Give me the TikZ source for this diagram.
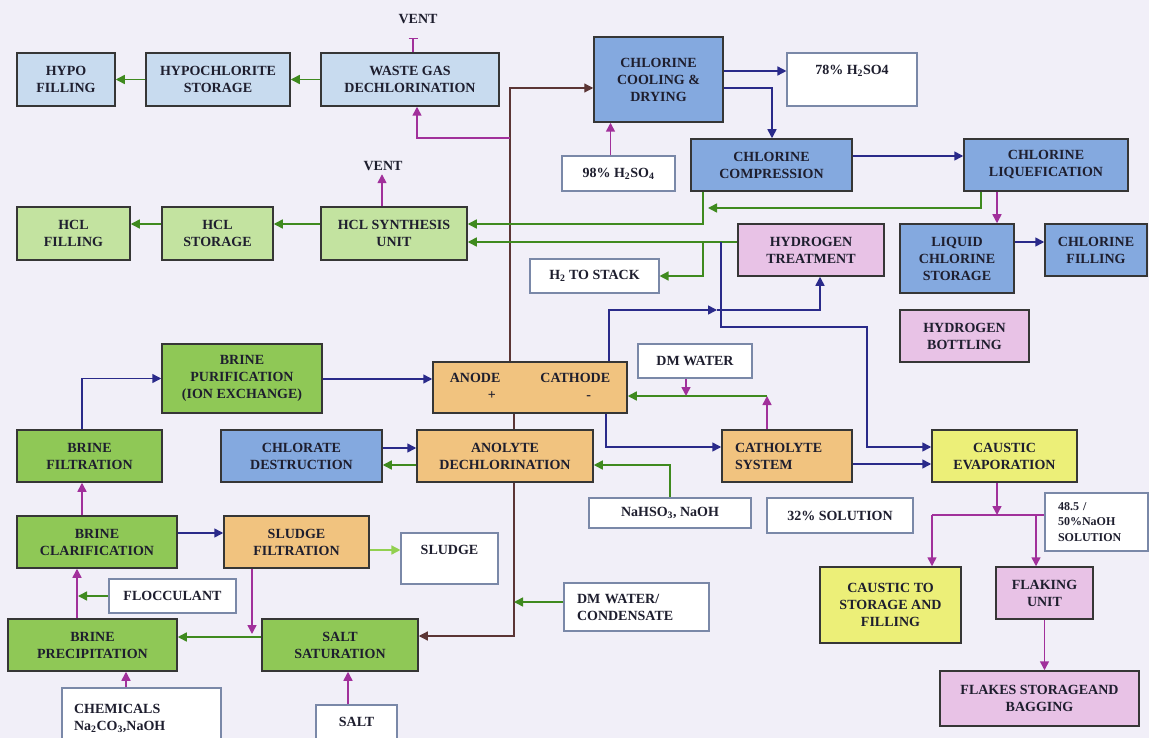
\documentclass[tikz,border=0pt]{standalone}
\usepackage{fontspec}
\setmainfont{Liberation Serif}
\usetikzlibrary{arrows.meta}

\definecolor{paper}{HTML}{F1EFF8}
\definecolor{boxline}{HTML}{363636}
\definecolor{feedline}{HTML}{7A88A8}
\definecolor{hypoblue}{HTML}{C8DBEF}
\definecolor{chlblue}{HTML}{84A9DF}
\definecolor{hclgreen}{HTML}{C3E3A0}
\definecolor{brinegreen}{HTML}{8FC856}
\definecolor{cellorange}{HTML}{F1C37F}
\definecolor{hydpink}{HTML}{E8C2E6}
\definecolor{caustyellow}{HTML}{ECEF78}
\definecolor{flownavy}{HTML}{2A2A8A}
\definecolor{flowgreen}{HTML}{3F8A1F}
\definecolor{flowmag}{HTML}{A1309B}
\definecolor{flowdark}{HTML}{5B3535}
\definecolor{flowlight}{HTML}{92D050}
\definecolor{ink}{HTML}{1E1E2E}

\begin{document}
\begin{tikzpicture}[x=1pt,y=-1pt,
  box/.style={draw=boxline,line width=1.5pt,inner sep=0pt,align=center,text=ink,
    font=\bfseries\fontsize{14}{17}\selectfont},
  hypo/.style={box,fill=hypoblue},
  chl/.style={box,fill=chlblue},
  hcl/.style={box,fill=hclgreen},
  brine/.style={box,fill=brinegreen},
  cell/.style={box,fill=cellorange},
  hyd/.style={box,fill=hydpink},
  caus/.style={box,fill=caustyellow},
  feed/.style={box,fill=white,draw=feedline,line width=1.1pt},
  flowtip/.style={-{Triangle[length=9pt,width=9pt]}},
  bflow/.style={flownavy,line width=1.5pt,flowtip},
  gflow/.style={flowgreen,line width=1.5pt,flowtip},
  mflow/.style={flowmag,line width=1.5pt,flowtip},
  dflow/.style={flowdark,line width=1.2pt,flowtip},
  lflow/.style={flowlight,line width=1.5pt,flowtip},
  mline/.style={flowmag,line width=1.5pt},
  dline/.style={flowdark,line width=1.2pt},
  ventlabel/.style={text=ink,font=\bfseries\fontsize{14}{17}\selectfont}]

\useasboundingbox (0,0) rectangle (1149,738);
\fill[paper] (0,0) rectangle (1149,738);
\clip (0,0) rectangle (1149,738);

% chlorine / hcl / hypo
\node[hypo,minimum width=98pt,minimum height=53pt] (hypofill) at (66,79.5) {HYPO\\FILLING};
\node[hypo,minimum width=144pt,minimum height=53pt] (hypostor) at (218,79.5) {HYPOCHLORITE\\STORAGE};
\node[hypo,minimum width=178pt,minimum height=53pt] (wastegas) at (410,79.5) {WASTE GAS\\DECHLORINATION};
\node[ventlabel] (vent1) at (418,19) {VENT};
\node[chl,minimum width=129pt,minimum height=85pt] (ccd) at (658.5,79.5) {CHLORINE\\COOLING \&\\DRYING};
\node[feed,minimum width=130pt,minimum height=53pt,text depth=19pt] (h2so78) at (852,79.5) {78\% H\textsubscript{2}SO4};
\node[feed,minimum width=113pt,minimum height=35pt] (h2so98) at (618.5,173.5) {98\% H\textsubscript{2}SO\textsubscript{4}};
\node[chl,minimum width=161pt,minimum height=52pt] (comp) at (771.5,165) {CHLORINE\\COMPRESSION};
\node[chl,minimum width=164pt,minimum height=52pt] (liq) at (1046,165) {CHLORINE\\LIQUEFICATION};
\node[hcl,minimum width=113pt,minimum height=53pt] (hclfill) at (73.5,233.5) {HCL\\FILLING};
\node[hcl,minimum width=111pt,minimum height=53pt] (hclstor) at (217.5,233.5) {HCL\\STORAGE};
\node[hcl,minimum width=146pt,minimum height=53pt] (hclsyn) at (394,233.5) {HCL SYNTHESIS\\UNIT};
\node[ventlabel] (vent2) at (383,166) {VENT};
\node[feed,minimum width=129pt,minimum height=34pt] (h2stack) at (594.5,276) {H\textsubscript{2} TO STACK};
\node[hyd,minimum width=146pt,minimum height=52pt] (htreat) at (811,250) {HYDROGEN\\TREATMENT};
\node[chl,minimum width=114pt,minimum height=69pt] (lcs) at (957,258.5) {LIQUID\\CHLORINE\\STORAGE};
\node[chl,minimum width=102pt,minimum height=52pt] (clfill) at (1096,250) {CHLORINE\\FILLING};
\node[hyd,minimum width=129pt,minimum height=52pt] (hbottle) at (964.5,336) {HYDROGEN\\BOTTLING};

% cell room
\node[brine,minimum width=160pt,minimum height=69pt] (brinepur) at (242,378.5) {BRINE\\PURIFICATION\\(ION EXCHANGE)};
\node[cell,minimum width=194pt,minimum height=51pt] (anode) at (530,387.5)
  {\begin{tabular}{@{}l@{\hspace{40pt}}l@{}}ANODE & CATHODE\\ \hspace{38pt}+ & \hspace{46pt}-\end{tabular}};
\node[feed,minimum width=114pt,minimum height=34pt] (dmwater) at (695,361) {DM WATER};
\node[brine,minimum width=145pt,minimum height=52pt] (brinefilt) at (89.5,456) {BRINE\\FILTRATION};
\node[chl,minimum width=161pt,minimum height=52pt] (chlorate) at (301.5,456) {CHLORATE\\DESTRUCTION};
\node[cell,minimum width=176pt,minimum height=52pt] (anolyte) at (505,456) {ANOLYTE\\DECHLORINATION};
\node[cell,text width=104pt,inner xsep=13pt,align=left,minimum height=52pt] (catholyte) at (787,456) {CATHOLYTE\\SYSTEM};
\node[caus,minimum width=145pt,minimum height=52pt] (caustev) at (1004.5,456) {CAUSTIC\\EVAPORATION};
\node[feed,minimum width=162pt,minimum height=30pt] (nahso) at (670,513) {NaHSO\textsubscript{3}, NaOH};
\node[feed,minimum width=146pt,minimum height=35pt] (sol32) at (840,515.5) {32\% SOLUTION};
\node[feed,text width=77pt,inner xsep=13pt,align=left,minimum height=58pt,
  font=\bfseries\fontsize{12}{15.5}\selectfont] (naoh50) at (1096.5,522) {48.5 /\\50\%NaOH\\SOLUTION};

% brine section
\node[brine,minimum width=160pt,minimum height=52pt] (brineclar) at (97,542) {BRINE\\CLARIFICATION};
\node[cell,minimum width=145pt,minimum height=52pt] (sludgefilt) at (296.5,542) {SLUDGE\\FILTRATION};
\node[feed,minimum width=97pt,minimum height=51pt,text depth=17pt] (sludge) at (449.5,558.5) {SLUDGE};
\node[feed,minimum width=127pt,minimum height=34pt] (flocc) at (172.5,596) {FLOCCULANT};
\node[feed,text width=119pt,inner xsep=13pt,align=left,minimum height=48pt] (dmcond) at (636.5,607) {DM WATER/\\CONDENSATE};
\node[brine,minimum width=169pt,minimum height=52pt] (brineprec) at (92.5,645) {BRINE\\PRECIPITATION};
\node[brine,minimum width=156pt,minimum height=52pt] (saltsat) at (340,645) {SALT\\SATURATION};
\node[feed,text width=135pt,inner xsep=12pt,align=left,minimum height=60pt] (chemicals) at (141.5,718) {CHEMICALS\\Na\textsubscript{2}CO\textsubscript{3},NaOH};
\node[feed,minimum width=81pt,minimum height=34pt] (salt) at (356.5,722) {SALT};

% caustic section
\node[caus,minimum width=141pt,minimum height=76pt] (causticstor) at (890.5,605) {CAUSTIC TO\\STORAGE AND\\FILLING};
\node[hyd,minimum width=97pt,minimum height=52pt] (flaking) at (1044.5,593) {FLAKING\\UNIT};
\node[hyd,minimum width=199pt,minimum height=55pt] (flakes) at (1039.5,698.5) {FLAKES STORAGEAND\\BAGGING};

% junction points
\coordinate (ventstub) at (413,38);
\coordinate (wgtap) at (510,138);
\coordinate (hclret) at (708,208);
\coordinate (h2tap) at (703,242);
\coordinate (h2tapb) at (721,242);
\coordinate (h2junc) at (717,310);
\coordinate (catret) at (767,396);
\coordinate (dmdrop) at (686,396);
\coordinate (condin) at (514,602);
\coordinate (sfdrop) at (252,634);
\coordinate (csplit) at (997,515);
\coordinate (csplita) at (932,515);
\coordinate (csplitb) at (1036,515);

% chlorine, hcl, hypo flows
\draw[dflow] (anode.north -| 510,0) |- (ccd.west |- 0,88);
\draw[mflow] (wgtap) -| ([xshift=7pt]wastegas.south);
\draw[flowmag,line width=1.5pt,-{Bar[width=9pt]}] (wastegas.north -| ventstub) -- (ventstub);
\draw[gflow] (wastegas) -- (hypostor);
\draw[gflow] (hypostor) -- (hypofill);
\draw[mflow] ([xshift=-8pt]h2so98.north) -- ([xshift=-8pt]h2so98.north |- ccd.south);
\draw[bflow] (ccd.east |- 0,71) -- (h2so78.west |- 0,71);
\draw[bflow] (ccd.east |- 0,88) -| (comp.north -| 772,0);
\draw[bflow] (comp.east |- 0,156) -- (liq.west |- 0,156);
\draw[mflow] (liq.south -| csplit) -- (lcs.north -| csplit);
\draw[bflow] (lcs.east |- 0,242) -- (clfill.west |- 0,242);
\draw[gflow] (liq.south -| 981,0) |- (hclret);
\draw[gflow] (comp.south -| h2tap) |- (hclsyn.east |- 0,224);
\draw[gflow] (htreat.west |- h2tap) -- (hclsyn.east |- h2tap);
\draw[gflow] (h2tap) |- (h2stack.east);
\draw[gflow] (hclsyn.west |- 0,224) -- (hclstor.east |- 0,224);
\draw[gflow] (hclstor.west |- 0,224) -- (hclfill.east |- 0,224);
\draw[mflow] (hclsyn.north -| 382,0) -- (vent2.south -| 382,0);

% hydrogen flows
\draw[bflow] (anode.north -| 609,0) |- (h2junc);
\draw[bflow] (h2junc) -| (htreat.south -| 820,0);
\draw[bflow] (h2tapb) |- (867,327) |- (caustev.west |- 0,447);

% brine flows
\draw[bflow] (brinefilt.north -| 82,0) |- (brinepur.west);
\draw[bflow] (brinepur.east |- 0,379) -- (anode.west |- 0,379);
\draw[mflow] (brineclar.north -| 82,0) -- (brinefilt.south -| 82,0);
\draw[bflow] (brineclar.east |- 0,533) -- (sludgefilt.west |- 0,533);
\draw[lflow] (sludgefilt.east |- 0,550) -- (sludge.west |- 0,550);
\draw[mflow] (brineprec.north -| 77,0) -- (brineclar.south -| 77,0);
\draw[gflow] (flocc.west) -- (flocc.west -| 78,0);
\draw[gflow] (saltsat.west |- 0,637) -- (brineprec.east |- 0,637);
\draw[mflow] (sludgefilt.south -| sfdrop) -- (sfdrop);
\draw[mflow] (chemicals.north -| 126,0) -- (brineprec.south -| 126,0);
\draw[mflow] (salt.north -| 348,0) -- (saltsat.south -| 348,0);

% cell flows
\draw[dline] (anode.south -| condin) -- (anolyte.north -| condin);
\draw[dflow] (anolyte.south -| condin) |- (saltsat.east |- 0,636);
\draw[gflow] (dmcond.west |- condin) -- (condin);
\draw[bflow] (chlorate.east |- 0,448) -- (anolyte.west |- 0,448);
\draw[gflow] (anolyte.west |- 0,465) -- (chlorate.east |- 0,465);
\draw[gflow] (nahso.north) |- (anolyte.east |- 0,465);
\draw[bflow] (anode.south -| 606,0) |- (catholyte.west |- 0,447);
\draw[mflow] (catholyte.north -| catret) -- (catret);
\draw[gflow] (catret) -- (anode.east |- catret);
\draw[mflow] (dmwater.south -| dmdrop) -- (dmdrop);
\draw[bflow] (catholyte.east |- 0,464) -- (caustev.west |- 0,464);

% caustic flows
\draw[mflow] (caustev.south -| csplit) -- (csplit);
\draw[mline] (csplita) -- (naoh50.west |- csplita);
\draw[mflow] (csplita) -- (causticstor.north -| csplita);
\draw[mflow] (csplitb) -- (flaking.north -| csplitb);
\draw[mflow] (flaking.south) -- (flaking.south |- flakes.north);
\end{tikzpicture}
\end{document}
